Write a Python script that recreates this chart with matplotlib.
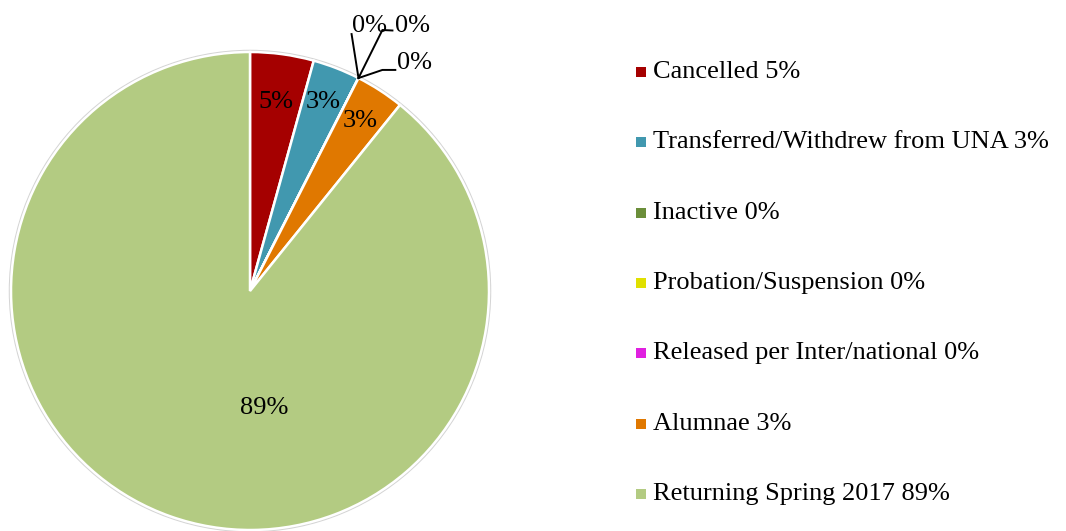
import numpy as np
import matplotlib
matplotlib.use("Agg")
import matplotlib.pyplot as plt
from matplotlib.patches import Circle, Rectangle

plt.rcParams["font.family"] = ["Liberation Serif", "DejaVu Serif"]

categories = ["Cancelled", "Transferred/Withdrew from UNA", "Inactive",
              "Probation/Suspension", "Released per Inter/national",
              "Alumnae", "Returning Spring 2017"]
shares = [4.3, 3.2, 0.0, 0.0, 0.0, 3.3, 89.2]
pct_labels = ["5%", "3%", "0%", "0%", "0%", "3%", "89%"]
colors = ["#a50000", "#4198af", "#6b8e3a", "#e0e000", "#e020e0",
          "#e07800", "#b3cb82"]

W, H = 1066, 531
FS = 19
fig = plt.figure(figsize=(W / 100, H / 100), dpi=100)

cx, cy, R = 250, 291, 239
ax = fig.add_axes([(cx - R) / W, (H - cy - R) / H, 2 * R / W, 2 * R / H])
ax.axis("off")

ax.add_patch(Circle((0, 0), 1.005, facecolor="none", edgecolor="#d4d4d4",
                    lw=1.5, zorder=0, clip_on=False))
wedges, _ = ax.pie(shares, colors=colors, startangle=90, counterclock=False,
                   radius=1, wedgeprops=dict(edgecolor="white", linewidth=1.8),
                   normalize=True)
ax.set_aspect("equal")
ax.set_xlim(-1, 1)
ax.set_ylim(-1, 1)

# inside labels for non-zero slices
for i, w in enumerate(wedges):
    if shares[i] == 0:
        continue
    mid = np.deg2rad((w.theta1 + w.theta2) / 2)
    if shares[i] > 50:
        x, y = 0.06, -0.49
    else:
        r = 0.80 if i == 0 else 0.85
        x, y = r * np.cos(mid), r * np.sin(mid)
    ax.text(x, y, pct_labels[i], ha="center", va="center", fontsize=FS)

# leader lines for zero slices
zero_idx = [i for i, s in enumerate(shares) if s == 0]
ang = np.deg2rad(wedges[zero_idx[0]].theta1)
p0 = (np.cos(ang), np.sin(ang))
targets = [((0.425, 1.075), None, (0.50, 1.11)),
           ((0.554, 1.092), (0.596, 1.090), (0.68, 1.11)),
           ((0.554, 0.925), (0.608, 0.925), (0.69, 0.955))]
for i, (mid_pt, end_pt, txt) in zip(zero_idx, targets):
    xs = [p0[0], mid_pt[0]] + ([end_pt[0]] if end_pt else [])
    ys = [p0[1], mid_pt[1]] + ([end_pt[1]] if end_pt else [])
    ax.plot(xs, ys, color="black", lw=1.4, clip_on=False)
    ax.text(txt[0], txt[1], pct_labels[i], ha="center", va="center",
            fontsize=FS, clip_on=False)

# legend
lx, ly0, dy = 636, 72, 70.3
for i, name in enumerate(categories):
    y = ly0 + i * dy
    fig.patches.append(Rectangle((lx / W, 1 - (y + 5) / H), 10 / W, 10 / H,
                                 transform=fig.transFigure, facecolor=colors[i],
                                 edgecolor="none"))
    fig.text(653 / W, 1 - y / H, f"{name} {pct_labels[i]}", ha="left",
             va="center", fontsize=FS)

fig.savefig("out.png", dpi=100)
